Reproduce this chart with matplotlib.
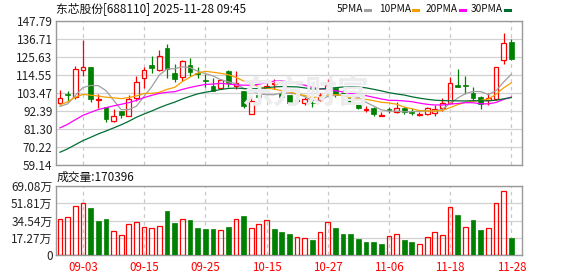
import matplotlib
matplotlib.use('Agg')
import matplotlib.pyplot as plt
from matplotlib.lines import Line2D
import numpy as np
import pandas as pd

plt.rcParams['font.family'] = ['Noto Sans CJK SC', 'DejaVu Sans']

# 日K数据 2025-08-29 .. 2025-11-28
opens = [97.1, 102.8, 100.8, 117.7, 119.2, 99.2, 95.1, 86.5, 92.2, 89.6,
         100.2, 112.8, 121.0, 117.5, 131.4, 115.5, 113.4, 120.8, 115.7, 111.4,
         107.5, 106.3, 117.1, 107.9, 104.5, 90.6, 102.4, 106.3, 109.0, 103.3,
         102.4, 98.6, 97.3, 97.5, 99.4, 105.9, 106.3, 103.3, 100.2, 96.7,
         93.0, 94.3, 89.0, 93.5, 91.6, 94.3, 92.0, 90.2, 90.6, 91.0,
         94.1, 97.5, 108.3, 108.3, 103.3, 100.8, 99.2, 99.8, 123.8, 135.1]
highs = [105.3, 104.5, 119.8, 136.3, 119.6, 102.8, 95.1, 93.7, 92.2, 102.4,
         114.1, 119.2, 126.3, 130.0, 133.8, 121.2, 123.6, 125.3, 119.2, 115.1,
         113.0, 112.0, 117.7, 117.1, 104.5, 100.8, 107.9, 110.4, 112.0, 104.9,
         102.4, 100.8, 100.8, 98.8, 103.3, 112.0, 106.3, 105.3, 101.2, 97.3,
         95.5, 94.7, 91.6, 95.1, 97.7, 95.1, 94.3, 92.0, 95.1, 96.3,
         100.4, 113.5, 118.1, 114.1, 107.3, 101.8, 103.3, 119.2, 140.6, 136.9]
lows = [95.9, 97.7, 99.7, 113.7, 98.2, 94.3, 85.9, 85.9, 88.2, 89.6,
        98.8, 106.5, 115.7, 116.9, 112.6, 110.4, 110.6, 113.9, 113.0, 107.0,
        104.9, 105.9, 106.9, 106.1, 94.3, 90.6, 99.2, 104.9, 105.9, 99.8,
        96.3, 97.1, 96.3, 95.1, 98.8, 104.9, 100.8, 99.8, 96.7, 93.7,
        91.6, 89.6, 89.0, 91.0, 91.0, 90.6, 90.0, 89.0, 90.0, 89.6,
        92.6, 97.1, 106.9, 102.8, 98.8, 93.7, 96.3, 99.2, 121.2, 123.6]
closes = [100.2, 102.4, 118.5, 119.6, 99.8, 99.6, 87.5, 89.0, 90.0, 100.0,
          110.4, 117.7, 118.7, 126.1, 118.1, 111.8, 123.2, 116.3, 115.1, 110.6,
          104.9, 111.4, 109.6, 109.8, 95.7, 98.3, 100.8, 107.9, 109.4, 101.2,
          97.1, 98.8, 99.8, 97.1, 102.4, 108.6, 102.2, 101.6, 97.1, 94.3,
          93.7, 90.6, 89.8, 93.1, 94.3, 91.6, 91.4, 90.6, 94.3, 93.7,
          97.1, 109.4, 107.3, 107.9, 100.4, 96.7, 100.2, 119.2, 134.5, 124.3]
# 之前29个交易日收盘(估计, 只用于均线)
pre_close = [40, 42, 44, 40, 36, 34, 32, 32, 34, 36,
             58, 63, 65, 64, 64, 65, 67, 70, 80, 82,
             84, 90, 103, 104, 105, 94.5, 93, 95, 93.3]

# 成交量 (万)
volume = [35.7, 37.7, 48.7, 51.7, 47.0, 34.0, 36.0, 24.0, 19.7, 31.0,
          33.0, 27.7, 27.0, 28.7, 44.0, 32.0, 36.0, 35.0, 27.0, 26.3,
          26.3, 25.0, 28.0, 36.0, 39.0, 27.0, 31.0, 35.0, 26.3, 23.0,
          21.0, 17.7, 16.7, 15.0, 22.7, 32.7, 27.0, 21.0, 21.0, 16.0,
          13.0, 13.0, 11.0, 18.7, 20.7, 15.0, 13.0, 10.7, 17.7, 22.7,
          19.7, 47.7, 40.0, 27.7, 35.0, 25.3, 26.7, 51.7, 63.7, 17.0396]
vol_up = [1, 1, 1, 1, 0, 0, 0, 1, 1, 1,
          1, 1, 1, 1, 0, 0, 1, 0, 0, 0,
          0, 1, 0, 1, 0, 1, 1, 1, 0, 0,
          0, 1, 1, 0, 1, 1, 0, 0, 0, 0,
          0, 0, 0, 1, 1, 0, 0, 1, 1, 1,
          1, 1, 0, 1, 0, 0, 1, 1, 1, 0]

date_idx = [3, 11, 19, 27, 35, 43, 51, 59]
date_labels = ['09-03', '09-15', '09-25', '10-15', '10-27', '11-06', '11-18', '11-28']
price_ticks = [59.14, 70.22, 81.30, 92.39, 103.47, 114.55, 125.63, 136.71, 147.79]
vol_ticks = [0, 17.27, 34.54, 51.81, 69.08]

ma_periods = [5, 10, 20, 30]
ma_colors = ['#a0a0a0', '#f5a000', '#ff00ff', '#006e32']

RED = '#ff0000'
GREEN = '#008000'
W, H = 578, 276

o = np.array(opens); h = np.array(highs); l = np.array(lows); c = np.array(closes)
x = np.arange(len(c))
up = c >= o

fig = plt.figure(figsize=(W / 100, H / 100), dpi=100)
ax = fig.add_axes([56 / W, 1 - 165 / H, 466 / W, 144 / H])
axv = fig.add_axes([56 / W, 1 - 255 / H, 466 / W, 69 / H])

fig.text(305 / W, 1 - 95 / H, '东方财富', fontsize=23, fontweight='bold',
         color='#ececef', ha='center', va='center', zorder=0)

# K线
bw = 0.62
top = np.maximum(o, c); bot = np.minimum(o, c)
ax.vlines(x[up], h[up], top[up], color=RED, lw=0.9, zorder=3)
ax.vlines(x[up], bot[up], l[up], color=RED, lw=0.9, zorder=3)
ax.vlines(x[~up], l[~up], h[~up], color=GREEN, lw=0.9, zorder=3)
hgt = np.maximum(top - bot, 0.35)
ax.bar(x[up], hgt[up], bottom=bot[up], width=bw, fill=False,
       edgecolor=RED, lw=0.9, zorder=4)
ax.bar(x[~up], hgt[~up], bottom=bot[~up], width=bw, color=GREEN,
       edgecolor=GREEN, lw=0.5, zorder=4)

# 均线
allc = pd.Series(pre_close + closes)
for n, col in zip(ma_periods, ma_colors):
    ma = allc.rolling(n).mean().iloc[len(pre_close):].values
    ax.plot(x, ma, color=col, lw=0.9, zorder=5)

# 成交量
vu = np.array(vol_up, dtype=bool); v = np.array(volume)
axv.bar(x[vu], v[vu], width=bw, fill=False, edgecolor=RED, lw=0.9, zorder=3)
axv.bar(x[~vu], v[~vu], width=bw, color=GREEN, edgecolor=GREEN, lw=0.5, zorder=3)

for a in (ax, axv):
    a.set_xlim(-0.52, 60.4)
    a.set_xticks(date_idx)
    a.grid(axis='y', color='#d2d2d2', lw=0.9, ls='-', zorder=0)
    a.grid(axis='x', color='#c8c8c8', lw=0.9, ls=(0, (3, 3)), zorder=0)
    a.set_axisbelow(True)
    for s in a.spines.values():
        s.set_color('#999999')
        s.set_linewidth(1.0)
    a.tick_params(length=0, labelsize=8.5, labelcolor='#222222', pad=2.5)

ax.set_ylim(price_ticks[0], price_ticks[-1])
ax.set_yticks(price_ticks)
ax.set_yticklabels(['%.2f' % t for t in price_ticks])
ax.set_xticklabels([])

axv.set_ylim(vol_ticks[0], vol_ticks[-1])
axv.set_yticks(vol_ticks)
axv.set_yticklabels(['0'] + ['%.2f万' % t for t in vol_ticks[1:]])
axv.set_xticklabels(date_labels)
axv.tick_params(axis='x', labelcolor=RED, labelsize=8.3, pad=4)

# 标题和图例
fig.text(56 / W, 1 - 9 / H, '东芯股份[688110] 2025-11-28 09:45', fontsize=8.5,
         ha='left', va='center', color='#111111')
leg_dash = [365, 413, 460, 505]
for dx, n, col in zip(leg_dash, ma_periods, ma_colors):
    fig.text((dx - 2) / W, 1 - 9 / H, '%dPMA' % n, fontsize=7.3, ha='right',
             va='center', color='#111111')
    fig.add_artist(Line2D([dx / W, (dx + 5) / W], [1 - 9.5 / H, 1 - 9.5 / H],
                          transform=fig.transFigure, color=col, lw=2.2))

fig.text(57 / W, 1 - 177 / H, '成交量:%d' % round(volume[-1] * 10000), fontsize=8.5,
         ha='left', va='center', color='#111111')

fig.savefig('out.png', dpi=100)
